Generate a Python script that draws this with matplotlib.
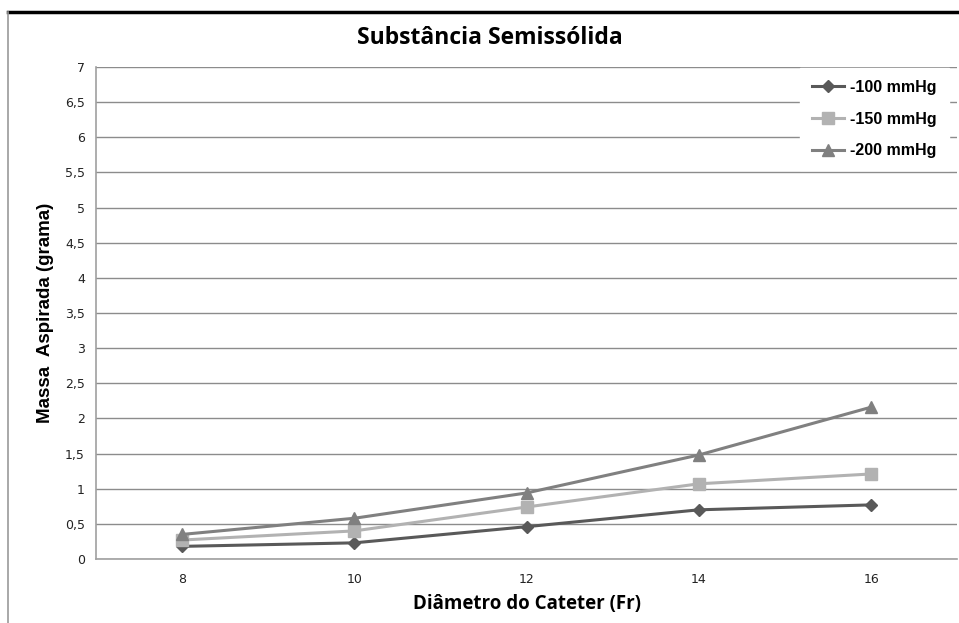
import matplotlib.pyplot as plt
from matplotlib.lines import Line2D

# data
diametros = ['8', '10', '12', '14', '16']
m100 = [0.18, 0.23, 0.46, 0.70, 0.77]
m150 = [0.27, 0.40, 0.74, 1.07, 1.21]
m200 = [0.35, 0.58, 0.94, 1.48, 2.16]
yticks = [0, 0.5, 1, 1.5, 2, 2.5, 3, 3.5, 4, 4.5, 5, 5.5, 6, 6.5, 7]
ylabels = ['0', '0,5', '1', '1,5', '2', '2,5', '3', '3,5', '4', '4,5', '5', '5,5', '6', '6,5', '7']

fig = plt.figure(figsize=(9.59, 6.23), dpi=100)
ax = fig.add_axes([0.1001, 0.1027, 0.898, 0.7898])

x = range(len(diametros))
ax.plot(x, m100, color='#595959', lw=2.2, marker='D', ms=6, label='-100 mmHg', zorder=3)
ax.plot(x, m150, color='#b2b2b2', lw=2.2, marker='s', ms=8, label='-150 mmHg', zorder=3)
ax.plot(x, m200, color='#808080', lw=2.2, marker='^', ms=9, label='-200 mmHg', zorder=3)

ax.set_xlim(-0.5, 4.5)
ax.set_ylim(0, 7)
ax.set_xticks(list(x))
ax.set_xticklabels(diametros)
ax.set_yticks(yticks)
ax.set_yticklabels(ylabels)
ax.tick_params(length=0, labelsize=9, pad=8, colors='#222222')
ax.tick_params(axis='x', pad=10)
ax.grid(axis='y', color='#8c8c8c', lw=1)
ax.set_axisbelow(True)
for s in ['top', 'right']:
    ax.spines[s].set_visible(False)
for s in ['left', 'bottom']:
    ax.spines[s].set_color('#a0a0a0')
    ax.spines[s].set_linewidth(1.2)

leg = ax.legend(loc='upper right', bbox_to_anchor=(0.99, 0.998), frameon=True, fancybox=False,
                edgecolor='white', framealpha=1, prop={'family': 'Liberation Sans', 'weight': 'bold', 'size': 11.5},
                handlelength=2.0, handletextpad=0.4, labelspacing=1.05, borderpad=0.75, borderaxespad=0.0)

fig.text(0.511, 0.939, 'Substância Semissólida', ha='center', va='center',
         fontsize=16.5, fontweight='bold', family='Open Sans')
fig.text(0.55, 0.031, 'Diâmetro do Cateter (Fr)', ha='center', va='center',
         fontsize=13.5, fontweight='bold', family='Open Sans')
fig.text(0.047, 0.497, 'Massa  Aspirada (grama)', ha='center', va='center', rotation=90,
         fontsize=13.5, fontweight='bold', family='Liberation Sans', fontstretch='condensed')

# outer chart frame
fig.add_artist(Line2D([8/959, 1], [1-11.5/623, 1-11.5/623], color='black', lw=2.5))
fig.add_artist(Line2D([8/959, 8/959], [0, 1-11.5/623], color='#9a9a9a', lw=1.2))

fig.savefig('out.png', dpi=100)
